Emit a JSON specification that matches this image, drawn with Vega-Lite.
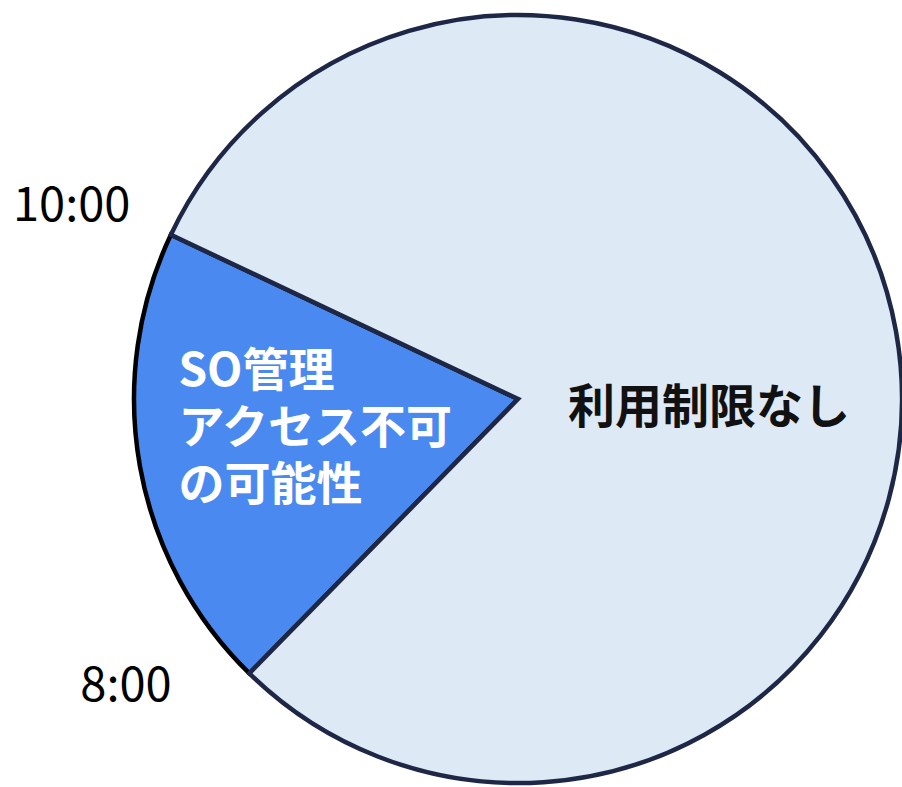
{
  "$schema": "https://vega.github.io/schema/vega-lite/v6.json",
  "width": 1036,
  "height": 798,
  "autosize": {"type": "none"},
  "padding": 0,
  "background": "white",
  "config": {"view": {"stroke": null}, "font": "Noto Sans CJK JP"},
  "datasets": {
    "slices": [
      {"slot": "SO管理アクセス不可の可能性", "share": 19.7},
      {"slot": "利用制限なし", "share": 80.3}
    ],
    "bounds": [
      {"time": "8:00", "at": 0},
      {"time": "10:00", "at": 19.7}
    ]
  },
  "layer": [
    {
      "data": {"name": "slices"},
      "mark": {"type": "arc", "outerRadius": 384, "strokeWidth": 4.5, "strokeJoin": "miter"},
      "encoding": {
        "theta": {"field": "share", "type": "quantitative", "stack": true,
          "scale": {"domain": [0, 100], "range": [3.9165, 10.1997]}},
        "color": {"field": "slot", "type": "nominal", "legend": null,
          "scale": {"domain": ["SO管理アクセス不可の可能性", "利用制限なし"], "range": ["#4A8AF0", "#DEE9F6"]}},
        "stroke": {"field": "slot", "type": "nominal", "legend": null,
          "scale": {"domain": ["SO管理アクセス不可の可能性", "利用制限なし"], "range": ["#000000", "#1E2846"]}},
        "order": {"field": "share", "sort": "ascending"}
      }
    },
    {
      "data": {"name": "slices"},
      "transform": [{"filter": "datum.slot === 'SO管理アクセス不可の可能性'"}],
      "mark": {"type": "text", "radius": 345, "align": "left", "baseline": "middle", "dy": -88,
        "fontSize": 46, "fontWeight": "bold", "color": "white", "lineHeight": 57,
        "text": ["SO管理", "アクセス不可", "の可能性"]},
      "encoding": {
        "theta": {"field": "share", "type": "quantitative", "stack": true}
      }
    },
    {
      "data": {"name": "slices"},
      "mark": {"type": "text", "radius": 194, "align": "center", "baseline": "middle", "dy": 44,
        "fontSize": 47, "fontWeight": "bold", "color": "#111111"},
      "encoding": {
        "theta": {"field": "share", "type": "quantitative", "stack": true},
        "text": {"field": "slot", "type": "nominal"},
        "opacity": {"condition": {"test": "datum.slot === '利用制限なし'", "value": 1}, "value": 0}
      }
    },
    {
      "data": {"name": "bounds"},
      "transform": [{"filter": "datum.time === '10:00'"}],
      "mark": {"type": "text", "radius": 486, "align": "center", "baseline": "middle", "dx": -7, "dy": 16,
        "fontSize": 47, "color": "#000000"},
      "encoding": {
        "theta": {"field": "at", "type": "quantitative", "stack": null},
        "text": {"field": "time", "type": "nominal"}
      }
    },
    {
      "data": {"name": "bounds"},
      "transform": [{"filter": "datum.time === '8:00'"}],
      "mark": {"type": "text", "radius": 486, "align": "center", "baseline": "middle", "dx": -52, "dy": -59,
        "fontSize": 47, "color": "#000000"},
      "encoding": {
        "theta": {"field": "at", "type": "quantitative", "stack": null},
        "text": {"field": "time", "type": "nominal"}
      }
    }
  ]
}
